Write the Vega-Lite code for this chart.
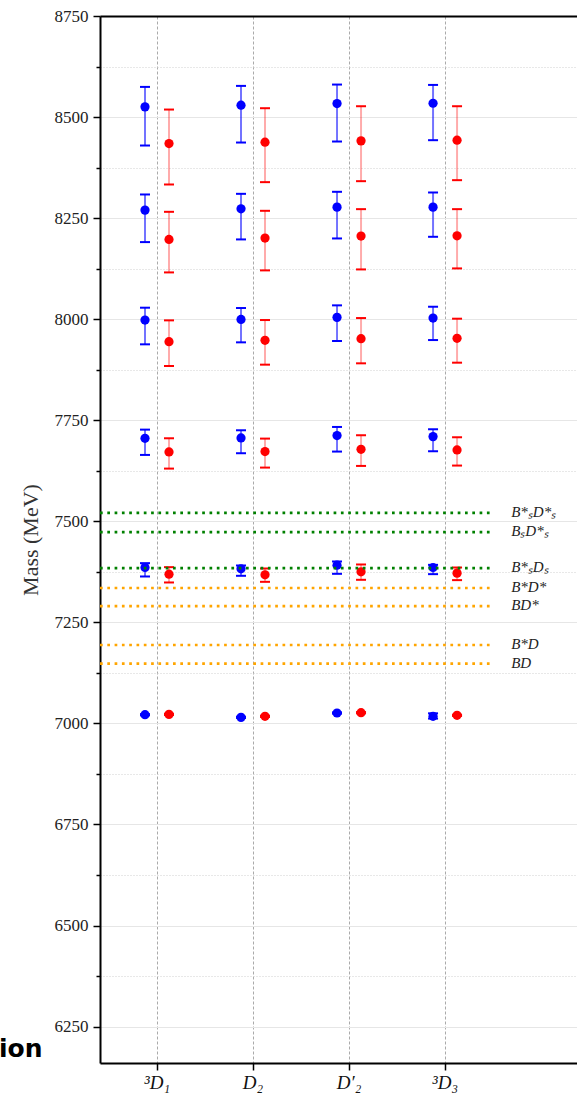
{
  "$schema": "https://vega.github.io/schema/vega-lite/v6.json",
  "autosize": {"type": "none"},
  "padding": {"left": 100, "top": 16, "right": 0, "bottom": 30},
  "width": 477,
  "height": 1047,
  "title": {"text": "ion", "orient": "bottom", "anchor": "start", "frame": "group", "font": "DejaVu Sans", "fontWeight": "bold", "fontSize": 25, "color": "#000000", "baseline": "alphabetic", "dx": -101, "dy": -35, "offset": 0},
  "config": {
    "view": {"stroke": null},
    "font": "Liberation Serif"
  },
  "datasets": {
    "states": [
      {"state": "³D₁", "set": "I", "mass": 7021.6, "lo": 7020.1, "hi": 7023.1},
      {"state": "³D₁", "set": "I", "mass": 7385.7, "lo": 7363.5, "hi": 7396.5},
      {"state": "³D₁", "set": "I", "mass": 7705.4, "lo": 7664.2, "hi": 7726.8},
      {"state": "³D₁", "set": "I", "mass": 7997.9, "lo": 7937.8, "hi": 8028.4},
      {"state": "³D₁", "set": "I", "mass": 8269.8, "lo": 8190.7, "hi": 8308.5},
      {"state": "³D₁", "set": "I", "mass": 8525.2, "lo": 8429.6, "hi": 8574.6},
      {"state": "³D₁", "set": "II", "mass": 7022.4, "lo": 7020.9, "hi": 7023.9},
      {"state": "³D₁", "set": "II", "mass": 7369.3, "lo": 7348.7, "hi": 7386.6},
      {"state": "³D₁", "set": "II", "mass": 7671.6, "lo": 7630.4, "hi": 7705.4},
      {"state": "³D₁", "set": "II", "mass": 7944.3, "lo": 7884.2, "hi": 7997.1},
      {"state": "³D₁", "set": "II", "mass": 8197.3, "lo": 8115.7, "hi": 8265.6},
      {"state": "³D₁", "set": "II", "mass": 8434.5, "lo": 8333.2, "hi": 8518.6},
      {"state": "D₂", "set": "I", "mass": 7015.0, "lo": 7013.5, "hi": 7016.5},
      {"state": "D₂", "set": "I", "mass": 7382.5, "lo": 7365.2, "hi": 7390.7},
      {"state": "D₂", "set": "I", "mass": 7706.2, "lo": 7668.4, "hi": 7725.2},
      {"state": "D₂", "set": "I", "mass": 7999.5, "lo": 7942.7, "hi": 8027.6},
      {"state": "D₂", "set": "I", "mass": 8273.1, "lo": 8197.3, "hi": 8310.1},
      {"state": "D₂", "set": "I", "mass": 8529.3, "lo": 8437.0, "hi": 8577.1},
      {"state": "D₂", "set": "II", "mass": 7017.5, "lo": 7016.0, "hi": 7019.0},
      {"state": "D₂", "set": "II", "mass": 7367.7, "lo": 7350.3, "hi": 7383.3},
      {"state": "D₂", "set": "II", "mass": 7672.5, "lo": 7632.9, "hi": 7704.6},
      {"state": "D₂", "set": "II", "mass": 7947.7, "lo": 7887.5, "hi": 7997.9},
      {"state": "D₂", "set": "II", "mass": 8200.6, "lo": 8120.7, "hi": 8268.1},
      {"state": "D₂", "set": "II", "mass": 8437.8, "lo": 8339.0, "hi": 8521.9},
      {"state": "D′₂", "set": "I", "mass": 7025.8, "lo": 7024.3, "hi": 7027.3},
      {"state": "D′₂", "set": "I", "mass": 7391.5, "lo": 7370.1, "hi": 7400.6},
      {"state": "D′₂", "set": "I", "mass": 7712.0, "lo": 7672.5, "hi": 7733.4},
      {"state": "D′₂", "set": "I", "mass": 8004.5, "lo": 7946.0, "hi": 8034.2},
      {"state": "D′₂", "set": "I", "mass": 8277.2, "lo": 8199.7, "hi": 8315.1},
      {"state": "D′₂", "set": "I", "mass": 8533.4, "lo": 8439.5, "hi": 8580.4},
      {"state": "D′₂", "set": "II", "mass": 7026.6, "lo": 7025.1, "hi": 7028.1},
      {"state": "D′₂", "set": "II", "mass": 7375.1, "lo": 7355.3, "hi": 7393.2},
      {"state": "D′₂", "set": "II", "mass": 7678.2, "lo": 7637.0, "hi": 7712.9},
      {"state": "D′₂", "set": "II", "mass": 7951.8, "lo": 7890.8, "hi": 8002.8},
      {"state": "D′₂", "set": "II", "mass": 8205.5, "lo": 8123.1, "hi": 8272.2},
      {"state": "D′₂", "set": "II", "mass": 8441.1, "lo": 8341.4, "hi": 8526.8},
      {"state": "³D₃", "set": "I", "mass": 7017.5, "lo": 7012.0, "hi": 7025.0},
      {"state": "³D₃", "set": "I", "mass": 7385.7, "lo": 7369.3, "hi": 7392.3},
      {"state": "³D₃", "set": "I", "mass": 7709.5, "lo": 7673.3, "hi": 7727.7},
      {"state": "³D₃", "set": "I", "mass": 8002.8, "lo": 7948.4, "hi": 8030.8},
      {"state": "³D₃", "set": "I", "mass": 8277.2, "lo": 8203.8, "hi": 8313.4},
      {"state": "³D₃", "set": "I", "mass": 8534.2, "lo": 8442.8, "hi": 8579.5},
      {"state": "³D₃", "set": "II", "mass": 7020.0, "lo": 7018.5, "hi": 7021.5},
      {"state": "³D₃", "set": "II", "mass": 7371.8, "lo": 7354.5, "hi": 7385.7},
      {"state": "³D₃", "set": "II", "mass": 7676.6, "lo": 7637.9, "hi": 7707.9},
      {"state": "³D₃", "set": "II", "mass": 7952.6, "lo": 7892.4, "hi": 8001.2},
      {"state": "³D₃", "set": "II", "mass": 8206.3, "lo": 8125.6, "hi": 8272.2},
      {"state": "³D₃", "set": "II", "mass": 8442.8, "lo": 8343.9, "hi": 8526.8}
    ],
    "thresholds": [
      {"channel": "B*ₛD*ₛ", "kind": "Bs", "mass": 7521},
      {"channel": "BₛD*ₛ", "kind": "Bs", "mass": 7473},
      {"channel": "B*ₛDₛ", "kind": "Bs", "mass": 7384},
      {"channel": "B*D*", "kind": "B", "mass": 7335},
      {"channel": "BD*", "kind": "B", "mass": 7290},
      {"channel": "B*D", "kind": "B", "mass": 7194},
      {"channel": "BD", "kind": "B", "mass": 7148}
    ]
  },
  "layer": [
    {
      "data": {"name": "states"},
      "encoding": {
        "x": {
          "field": "state", "type": "nominal", "sort": null,
          "scale": {"paddingInner": 0, "paddingOuter": 0.484, "align": 0.0968, "round": false},
          "axis": {
            "title": null, "labelAngle": 0, "bandPosition": 0.5,
            "labelFont": "Liberation Serif", "labelFontSize": 19, "labelFontStyle": "italic",
            "labelColor": "#111", "labelPadding": 3,
            "tickSize": 7, "tickColor": "black", "tickWidth": 1.5,
            "domainColor": "black", "domainWidth": 2,
            "grid": true, "gridColor": "#aaaaaa", "gridDash": [3, 2], "gridWidth": 1
          }
        },
        "xOffset": {
          "field": "set", "type": "nominal",
          "scale": {"paddingInner": 0, "paddingOuter": 1}
        },
        "y": {
          "field": "mass", "type": "quantitative",
          "scale": {"domain": [6160, 8750], "nice": false, "zero": false},
          "axis": {
            "title": "Mass (MeV)", "titleFont": "Liberation Serif", "titleFontSize": 22,
            "titleFontWeight": "normal", "titleColor": "#333", "titlePadding": 12,
            "values": [6250, 6375, 6500, 6625, 6750, 6875, 7000, 7125, 7250, 7375, 7500, 7625, 7750, 7875, 8000, 8125, 8250, 8375, 8500, 8625, 8750],
            "labelExpr": "datum.value % 250 === 0 ? format(datum.value, 'd') : ''",
            "labelFont": "Liberation Serif", "labelFontSize": 17, "labelColor": "#222", "labelPadding": 5,
            "tickSize": {"condition": {"test": "datum.value % 250 === 0", "value": 7}, "value": 4},
            "tickColor": "black", "tickWidth": 1.5,
            "domainColor": "black", "domainWidth": 2,
            "grid": true,
            "gridColor": {"condition": {"test": "datum.value % 250 === 0", "value": "#e6e6e6"}, "value": "#d0d0d0"},
            "gridDash": {"condition": {"test": "datum.value % 250 === 0", "value": []}, "value": [1, 2]},
            "gridWidth": 1
          }
        },
        "color": {
          "field": "set", "type": "nominal", "legend": null,
          "scale": {"domain": ["I", "II"], "range": ["#0000ff", "#ff0000"]}
        }
      },
      "layer": [
        {
          "mark": {"type": "rule", "strokeWidth": 2},
          "encoding": {
            "y": {"field": "lo", "type": "quantitative"},
            "y2": {"field": "hi"},
            "opacity": {
              "field": "set", "type": "nominal", "legend": null,
              "scale": {"domain": ["I", "II"], "range": [0.55, 0.33]}
            }
          }
        },
        {
          "mark": {"type": "tick", "orient": "horizontal", "size": 10, "thickness": 2, "opacity": 1},
          "encoding": {"y": {"field": "lo", "type": "quantitative"}}
        },
        {
          "mark": {"type": "tick", "orient": "horizontal", "size": 10, "thickness": 2, "opacity": 1},
          "encoding": {"y": {"field": "hi", "type": "quantitative"}}
        },
        {
          "mark": {"type": "point", "filled": true, "size": 85, "opacity": 1}
        }
      ]
    },
    {
      "data": {"name": "thresholds"},
      "encoding": {
        "y": {
          "field": "mass", "type": "quantitative",
          "scale": {"domain": [6160, 8750], "nice": false, "zero": false},
          "axis": {
            "title": "Mass (MeV)", "titleFont": "Liberation Serif", "titleFontSize": 22,
            "titleFontWeight": "normal", "titleColor": "#333", "titlePadding": 12,
            "values": [6250, 6375, 6500, 6625, 6750, 6875, 7000, 7125, 7250, 7375, 7500, 7625, 7750, 7875, 8000, 8125, 8250, 8375, 8500, 8625, 8750],
            "labelExpr": "datum.value % 250 === 0 ? format(datum.value, 'd') : ''",
            "labelFont": "Liberation Serif", "labelFontSize": 17, "labelColor": "#222", "labelPadding": 5,
            "tickSize": {"condition": {"test": "datum.value % 250 === 0", "value": 7}, "value": 4},
            "tickColor": "black", "tickWidth": 1.5,
            "domainColor": "black", "domainWidth": 2,
            "grid": true,
            "gridColor": {"condition": {"test": "datum.value % 250 === 0", "value": "#e6e6e6"}, "value": "#d0d0d0"},
            "gridDash": {"condition": {"test": "datum.value % 250 === 0", "value": []}, "value": [1, 2]},
            "gridWidth": 1
          }
        }
      },
      "layer": [
        {
          "mark": {"type": "rule", "strokeWidth": 2.7, "strokeDash": [2.7, 4.6]},
          "encoding": {
            "x": {
              "datum": 0, "type": "quantitative",
              "scale": {"domain": [0, 1], "nice": false, "zero": false},
              "axis": {"orient": "top", "title": null, "labels": false, "ticks": false, "grid": false, "domainColor": "black", "domainWidth": 2}
            },
            "x2": {"datum": 0.822},
            "color": {
              "field": "kind", "type": "nominal", "legend": null,
              "scale": {"domain": ["Bs", "B"], "range": ["#008000", "#ffa500"]}
            }
          }
        },
        {
          "mark": {"type": "text", "align": "left", "baseline": "middle", "dy": -1, "font": "Liberation Serif", "fontStyle": "italic", "fontSize": 15, "color": "#222"},
          "encoding": {
            "x": {
              "datum": 0.862, "type": "quantitative",
              "scale": {"domain": [0, 1], "nice": false, "zero": false},
              "axis": {"orient": "top", "title": null, "labels": false, "ticks": false, "grid": false, "domainColor": "black", "domainWidth": 2}
            },
            "text": {"field": "channel"}
          }
        }
      ]
    }
  ],
  "resolve": {"scale": {"x": "independent", "color": "independent", "opacity": "independent"}}
}
